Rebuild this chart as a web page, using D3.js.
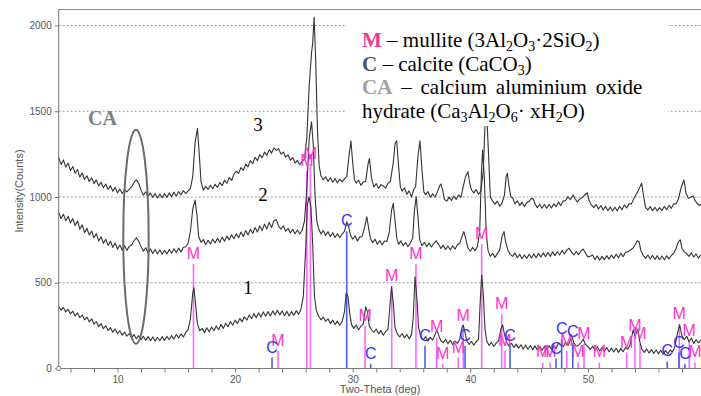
<!DOCTYPE html>
<html>
<head>
<meta charset="utf-8">
<script src="https://d3js.org/d3.v7.min.js"></script>
<style>
  body { margin: 0; background: #fff; }
  svg { display: block; }
  .axis text { font-family: "Liberation Sans", Arial, sans-serif; font-size: 10px; fill: #555; }
  .axis path, .axis line { stroke: #777; }
</style>
</head>
<body>
<div id="chart"></div>
<script>
// diffractograms, [two-theta (deg), intensity (counts)]
const pattern1 = [
  [5.0,362],[5.2,340],[5.4,356],[5.6,330],[5.8,346],[6.0,318],[6.2,334],[6.4,306],[6.6,324],[6.8,296],[7.0,312],[7.2,284],[7.4,300],[7.6,272],[7.8,290],
  [8.0,258],[8.2,274],[8.4,244],[8.6,262],[8.8,232],[9.0,250],[9.2,222],[9.4,238],[9.6,212],[9.8,230],[10.0,204],[10.2,220],[10.4,194],[10.6,212],[10.8,188],
  [11.0,204],[11.2,180],[11.4,198],[11.6,174],[11.8,192],[12.0,168],[12.2,188],[12.4,164],[12.6,186],[12.8,162],[13.0,184],[13.2,160],[13.4,182],[13.6,162],
  [13.8,186],[14.0,164],[14.2,188],[14.4,168],[14.6,192],[14.8,172],[15.0,198],[15.2,178],[15.4,202],[15.6,184],[15.8,210],[16.0,225],[16.2,290],[16.4,440],
  [16.5,470],[16.6,400],[16.8,260],[17.0,220],[17.2,234],[17.4,208],[17.6,238],[17.8,214],[18.0,242],[18.2,220],[18.4,248],[18.6,226],[18.8,256],[19.0,234],
  [19.2,264],[19.4,244],[19.6,274],[19.8,252],[20.0,282],[20.2,262],[20.4,292],[20.6,272],[20.8,302],[21.0,282],[21.2,312],[21.4,290],[21.6,320],[21.8,296],
  [22.0,324],[22.2,300],[22.4,330],[22.6,304],[22.8,332],[23.0,306],[23.2,336],[23.4,312],[23.6,340],[23.8,312],[24.0,336],[24.2,308],[24.4,334],[24.6,306],
  [24.8,332],[25.0,310],[25.2,336],[25.4,316],[25.6,344],[25.8,420],[26.0,700],[26.15,960],[26.3,1000],[26.45,940],[26.6,720],[26.75,420],[26.9,340],
  [27.1,306],[27.3,284],[27.5,300],[27.7,276],[27.9,290],[28.1,262],[28.3,282],[28.5,256],[28.7,276],[28.9,252],[29.1,274],[29.3,330],[29.45,440],[29.6,420],
  [29.75,320],[29.9,256],[30.1,234],[30.3,254],[30.5,226],[30.7,246],[30.9,260],[31.1,360],[31.25,330],[31.4,250],[31.6,226],[31.8,210],[32.0,230],[32.2,202],
  [32.4,222],[32.6,194],[32.8,216],[33.0,230],[33.15,350],[33.3,477],[33.45,380],[33.6,240],[33.8,200],[34.0,184],[34.2,204],[34.4,178],[34.6,198],[34.8,174],
  [35.0,196],[35.15,300],[35.3,535],[35.45,420],[35.6,240],[35.8,182],[36.0,166],[36.2,186],[36.4,160],[36.6,182],[36.8,166],[37.0,196],[37.15,224],[37.3,196],
  [37.5,162],[37.7,150],[37.9,170],[38.1,144],[38.3,164],[38.5,140],[38.7,160],[38.9,146],[39.1,170],[39.3,240],[39.4,254],[39.55,210],[39.7,160],[39.9,140],
  [40.1,158],[40.3,136],[40.5,156],[40.7,170],[40.85,400],[40.97,545],[41.1,440],[41.25,230],[41.4,160],[41.6,134],[41.8,152],[42.0,128],[42.2,148],[42.4,160],
  [42.6,230],[42.75,254],[42.9,200],[43.1,150],[43.3,130],[43.5,148],[43.7,122],[43.9,142],[44.1,118],[44.3,138],[44.5,114],[44.7,136],[44.9,112],[45.1,134],
  [45.3,110],[45.5,132],[45.7,108],[45.9,130],[46.1,106],[46.3,128],[46.5,110],[46.7,132],[46.9,112],[47.1,136],[47.3,116],[47.5,150],[47.7,136],[47.9,128],
  [48.1,152],[48.3,134],[48.5,165],[48.65,185],[48.8,150],[49.0,130],[49.2,136],[49.4,150],[49.6,170],[49.8,140],[50.0,128],[50.2,110],[50.4,130],[50.6,106],
  [50.8,126],[51.0,102],[51.2,124],[51.4,100],[51.6,122],[51.8,98],[52.0,120],[52.2,96],[52.4,118],[52.6,94],[52.8,116],[53.0,98],[53.2,124],[53.4,112],
  [53.6,140],[53.85,225],[54.0,190],[54.25,230],[54.4,160],[54.6,112],[54.8,94],[55.0,114],[55.2,90],[55.4,110],[55.6,88],[55.8,108],[56.0,86],[56.2,106],
  [56.4,84],[56.6,104],[56.8,86],[57.0,108],[57.2,96],[57.4,130],[57.6,200],[57.8,254],[58.0,190],[58.2,168],[58.4,188],[58.6,156],[58.8,178],[59.0,146],
  [59.2,168],[59.4,150],[59.6,164],[60.0,152]
];

const pattern2 = [
  [5.0,910],[5.2,874],[5.4,900],[5.6,862],[5.8,888],[6.0,850],[6.2,874],[6.4,834],[6.6,860],[6.8,812],[7.0,838],[7.2,792],[7.4,818],[7.6,778],[7.8,802],
  [8.0,762],[8.2,786],[8.4,744],[8.6,768],[8.8,730],[9.0,754],[9.2,718],[9.4,742],[9.6,706],[9.8,732],[10.0,696],[10.2,720],[10.4,690],[10.6,716],[10.8,690],
  [11.0,712],[11.2,720],[11.4,745],[11.6,762],[11.8,742],[12.0,712],[12.2,684],[12.4,704],[12.6,674],[12.8,698],[13.0,670],[13.2,694],[13.4,668],[13.6,692],
  [13.8,666],[14.0,690],[14.2,668],[14.4,694],[14.6,672],[14.8,698],[15.0,676],[15.2,702],[15.4,680],[15.6,706],[15.8,710],[16.0,730],[16.2,800],[16.4,930],
  [16.6,982],[16.75,900],[16.9,770],[17.1,736],[17.3,752],[17.5,722],[17.7,748],[17.9,726],[18.1,754],[18.3,732],[18.5,760],[18.7,736],[18.9,766],[19.1,742],
  [19.3,772],[19.5,750],[19.7,780],[19.9,756],[20.1,786],[20.3,762],[20.5,796],[20.7,770],[20.9,804],[21.1,778],[21.3,812],[21.5,788],[21.7,822],[21.9,796],
  [22.1,832],[22.3,804],[22.5,842],[22.7,814],[22.9,852],[23.1,822],[23.3,862],[23.5,868],[23.7,830],[23.9,812],[24.1,832],[24.3,800],[24.5,818],[24.7,790],
  [24.9,812],[25.1,786],[25.3,808],[25.5,784],[25.7,806],[25.9,860],[26.1,1050],[26.3,1340],[26.5,1439],[26.65,1300],[26.8,1000],[26.95,860],[27.1,816],
  [27.3,784],[27.5,804],[27.7,776],[27.9,798],[28.1,770],[28.3,792],[28.5,764],[28.7,786],[28.9,762],[29.1,784],[29.3,800],[29.5,856],[29.65,830],[29.8,780],
  [30.0,754],[30.2,774],[30.4,744],[30.6,766],[30.8,770],[31.0,820],[31.2,885],[31.35,820],[31.5,760],[31.7,734],[31.9,754],[32.1,724],[32.3,746],[32.5,720],
  [32.7,744],[32.9,740],[33.1,790],[33.3,920],[33.45,963],[33.6,860],[33.75,760],[33.9,724],[34.1,744],[34.3,716],[34.5,736],[34.7,710],[34.9,732],[35.1,760],
  [35.25,920],[35.4,1002],[35.55,880],[35.7,750],[35.9,716],[36.1,736],[36.3,710],[36.5,732],[36.7,708],[36.9,730],[37.1,745],[37.3,724],[37.5,700],[37.7,718],
  [37.9,694],[38.1,714],[38.3,692],[38.5,716],[38.7,696],[38.9,722],[39.1,730],[39.3,770],[39.45,798],[39.6,760],[39.8,704],[40.0,684],[40.2,706],[40.4,686],
  [40.6,712],[40.8,800],[40.95,1150],[41.05,1274],[41.2,1100],[41.35,800],[41.5,690],[41.7,654],[41.9,672],[42.1,648],[42.3,670],[42.5,690],[42.7,770],
  [42.87,798],[43.0,740],[43.2,690],[43.4,664],[43.6,654],[43.8,674],[44.0,646],[44.2,666],[44.4,640],[44.6,662],[44.8,642],[45.0,666],[45.2,644],[45.4,668],
  [45.6,646],[45.8,672],[46.0,650],[46.2,674],[46.4,652],[46.6,676],[46.8,654],[47.0,680],[47.2,658],[47.4,682],[47.6,662],[47.8,688],[48.0,668],[48.2,690],
  [48.4,701],[48.6,680],[48.8,662],[49.0,682],[49.2,664],[49.4,684],[49.6,696],[49.8,672],[50.0,650],[50.2,654],[50.4,662],[50.6,636],[50.8,656],[51.0,632],
  [51.2,654],[51.4,634],[51.6,658],[51.8,638],[52.0,662],[52.2,642],[52.4,666],[52.6,646],[52.8,672],[53.0,652],[53.2,678],[53.4,680],[53.6,690],[53.8,700],
  [54.0,720],[54.2,745],[54.35,740],[54.5,690],[54.7,660],[54.9,642],[55.1,662],[55.3,638],[55.5,660],[55.7,636],[55.9,658],[56.1,634],[56.3,656],[56.5,634],
  [56.7,658],[56.9,638],[57.1,660],[57.3,672],[57.5,700],[57.7,740],[57.85,750],[58.0,700],[58.2,680],[58.4,670],[58.6,654],[58.8,674],[59.0,650],[59.2,668],
  [59.4,644],[59.6,662],[60.0,652]
];

const pattern3 = [
  [5.0,1230],[5.2,1190],[5.4,1216],[5.6,1174],[5.8,1198],[6.0,1154],[6.2,1178],[6.4,1138],[6.6,1160],[6.8,1116],[7.0,1140],[7.2,1102],[7.4,1124],[7.6,1090],
  [7.8,1112],[8.0,1078],[8.2,1100],[8.4,1064],[8.6,1086],[8.8,1054],[9.0,1076],[9.2,1044],[9.4,1066],[9.6,1034],[9.8,1056],[10.0,1024],[10.2,1046],[10.4,1020],
  [10.6,1042],[10.8,1030],[11.0,1044],[11.2,1060],[11.4,1085],[11.6,1100],[11.8,1080],[12.0,1040],[12.2,1010],[12.4,1030],[12.6,1002],[12.8,1024],[13.0,998],
  [13.2,1020],[13.4,994],[13.6,1018],[13.8,996],[14.0,1020],[14.2,998],[14.4,1024],[14.6,1002],[14.8,1028],[15.0,1006],[15.2,1032],[15.4,1012],[15.6,1038],
  [15.8,1020],[16.0,1036],[16.2,1050],[16.4,1120],[16.6,1320],[16.8,1400],[16.95,1250],[17.1,1090],[17.3,1040],[17.5,1062],[17.7,1044],[17.9,1068],[18.1,1048],
  [18.3,1074],[18.5,1056],[18.7,1084],[18.9,1066],[19.1,1098],[19.3,1080],[19.5,1114],[19.7,1096],[19.9,1132],[20.1,1150],[20.3,1138],[20.5,1172],[20.7,1156],
  [20.9,1192],[21.1,1176],[21.3,1212],[21.5,1194],[21.7,1232],[21.9,1212],[22.1,1248],[22.3,1228],[22.5,1262],[22.7,1242],[22.9,1276],[23.1,1256],[23.3,1286],
  [23.5,1272],[23.7,1282],[23.9,1250],[24.1,1262],[24.3,1232],[24.5,1246],[24.7,1214],[24.9,1230],[25.1,1198],[25.3,1214],[25.5,1188],[25.7,1206],[25.9,1222],
  [26.1,1350],[26.3,1650],[26.5,1839],[26.6,1900],[26.72,2049],[26.85,1800],[27.0,1400],[27.15,1180],[27.3,1124],[27.5,1100],[27.7,1118],[27.9,1090],[28.1,1112],
  [28.3,1086],[28.5,1108],[28.7,1082],[28.9,1104],[29.1,1088],[29.3,1106],[29.5,1120],[29.65,1220],[29.85,1328],[30.0,1200],[30.15,1100],[30.3,1080],[30.5,1098],
  [30.7,1068],[30.9,1088],[31.1,1090],[31.3,1190],[31.42,1225],[31.6,1110],[31.8,1058],[32.0,1078],[32.2,1050],[32.4,1072],[32.6,1064],[32.8,1052],[33.0,1080],
  [33.2,1090],[33.45,1200],[33.6,1310],[33.74,1328],[33.9,1180],[34.05,1060],[34.2,1034],[34.4,1054],[34.6,1016],[34.8,1036],[35.0,1000],[35.2,1046],[35.35,1060],
  [35.55,1240],[35.72,1328],[35.9,1150],[36.05,1030],[36.2,1014],[36.4,1032],[36.6,998],[36.8,1018],[37.0,1000],[37.2,1030],[37.4,1066],[37.5,1076],[37.65,1040],
  [37.8,986],[38.0,976],[38.2,1000],[38.4,980],[38.6,1004],[38.8,986],[39.0,1012],[39.2,998],[39.4,1060],[39.6,1120],[39.8,1147],[39.95,1080],[40.1,1041],
  [40.3,1024],[40.5,1044],[40.7,1016],[40.9,1034],[41.1,1150],[41.25,1420],[41.39,1495],[41.55,1250],[41.7,1000],[41.9,976],[42.1,958],[42.3,976],[42.5,946],
  [42.7,966],[42.9,1010],[43.05,1120],[43.15,1138],[43.3,1060],[43.45,1000],[43.6,996],[43.8,960],[44.0,978],[44.2,950],[44.4,970],[44.6,944],[44.8,966],
  [45.0,975],[45.2,992],[45.35,990],[45.5,960],[45.7,938],[45.9,958],[46.1,934],[46.3,956],[46.5,934],[46.7,956],[46.9,936],[47.1,960],[47.3,944],[47.5,970],
  [47.7,950],[47.9,976],[48.1,980],[48.3,1002],[48.5,984],[48.75,1012],[48.9,990],[49.1,972],[49.3,988],[49.5,996],[49.7,1010],[49.95,1025],[50.1,980],
  [50.3,954],[50.5,938],[50.7,956],[50.9,930],[51.1,950],[51.3,924],[51.5,946],[51.7,920],[51.9,942],[52.1,918],[52.3,940],[52.5,920],[52.7,946],[52.9,926],
  [53.1,954],[53.3,936],[53.5,960],[53.7,960],[53.9,990],[54.15,1021],[54.3,1040],[54.57,1080],[54.75,1000],[54.9,940],[55.1,924],[55.3,944],[55.5,920],
  [55.7,940],[55.9,918],[56.1,938],[56.3,920],[56.5,946],[56.7,926],[56.9,952],[57.1,934],[57.3,960],[57.5,960],[57.7,990],[57.95,1060],[58.17,1099],
  [58.35,1020],[58.55,992],[58.75,1000],[58.96,1006],[59.1,980],[59.3,962],[59.5,950],[59.6,958],[60.0,948]
];

// reference stick patterns, [two-theta (deg), height (counts)]
const mulliteSticks = [
  [16.46,610],[23.65,103],[26.1,1153],[26.4,1192],[31.05,249],[33.32,482],[35.38,609],[37.14,181],[37.65,29],
  [38.98,64],[39.4,249],[40.97,725],[42.67,317],[42.95,103],[46.16,35],[46.78,35],[48.2,103],[49.16,35],
  [49.67,144],[50.97,35],[53.3,93],[54.0,191],[54.43,144],[57.77,259],[58.62,161],[59.1,35]
];
const calciteSticks = [
  [23.14,64],[29.49,800],[31.53,27],[36.15,132],[39.55,132],[43.38,132],[47.29,57],[47.77,172],
  [48.71,152],[56.75,41],[57.74,93],[58.25,26]
];

const yTicks = [0, 500, 1000, 1500, 2000];
const yGrid = [500, 1000, 1500, 2000];
const xTicks = [6,8,10,12,14,16,18,20,22,24,26,28,30,32,34,36,38,40,42,44,46,48,50,52,54,56,58,60];
const xTickLabels = [10, 20, 30, 40, 50];

const config = {
  width: 701,
  height: 396,
  left: 58.7,
  right: 705.5,
  top: 25.5,
  bottom: 368.5,
  frameTop: 9.5,
  curveColor: '#333',
  mColor: '#ff33cc',
  mLine: '#ff66ff',
  cColor: '#3333ff',
  cLine: '#4a5ff0'
};

const svg = d3.select('#chart')
  .append('svg')
  .attr('width', config.width)
  .attr('height', config.height);

const x = d3.scaleLinear().domain([5, 60]).range([config.left, config.right]);
const y = d3.scaleLinear().domain([0, 2000]).range([config.bottom, config.top]);

// dashed grid
svg.append('g')
  .selectAll('line')
  .data(yGrid)
  .join('line')
  .attr('x1', x(5))
  .attr('x2', config.width)
  .attr('y1', d => y(d))
  .attr('y2', d => y(d))
  .attr('stroke', '#9a9a9a')
  .attr('stroke-width', 1)
  .attr('stroke-dasharray', '2,2');

// frame top
svg.append('line')
  .attr('x1', x(5)).attr('x2', config.width)
  .attr('y1', config.frameTop).attr('y2', config.frameTop)
  .attr('stroke', '#888').attr('stroke-width', 1.2);

// stick patterns
const sticks = svg.append('g');
sticks.selectAll('.m-stick')
  .data(mulliteSticks)
  .join('line')
  .attr('class', 'm-stick')
  .attr('x1', d => x(d[0])).attr('x2', d => x(d[0]))
  .attr('y1', y(0)).attr('y2', d => y(d[1]))
  .attr('stroke', config.mLine)
  .attr('stroke-width', 1.6);

sticks.selectAll('.c-stick')
  .data(calciteSticks)
  .join('line')
  .attr('class', 'c-stick')
  .attr('x1', d => x(d[0])).attr('x2', d => x(d[0]))
  .attr('y1', y(0)).attr('y2', d => y(d[1]))
  .attr('stroke', config.cLine)
  .attr('stroke-width', 1.6);

// patterns
const line = d3.line()
  .x(d => x(d[0]))
  .y(d => y(d[1]));

svg.append('g')
  .selectAll('path')
  .data([pattern1, pattern2, pattern3])
  .join('path')
  .attr('d', d => line(d))
  .attr('fill', 'none')
  .attr('stroke', config.curveColor)
  .attr('stroke-width', 1.1)
  .attr('stroke-linejoin', 'round');

// stick labels
const labels = svg.append('g')
  .style('font-family', '"Liberation Sans", Arial, sans-serif')
  .style('font-size', '16px')
  .attr('text-anchor', 'middle');

labels.selectAll('.m-label')
  .data(mulliteSticks)
  .join('text')
  .attr('class', 'm-label')
  .attr('x', d => x(d[0]))
  .attr('y', d => y(d[1]) - 5)
  .attr('fill', config.mColor)
  .text('M');

labels.selectAll('.c-label')
  .data(calciteSticks)
  .join('text')
  .attr('class', 'c-label')
  .attr('x', d => x(d[0]))
  .attr('y', d => y(d[1]) - 5)
  .attr('fill', config.cColor)
  .text('C');

// axes
const axisY = d3.axisLeft(y)
  .tickValues(yTicks)
  .tickFormat(d3.format('d'))
  .tickSize(4)
  .tickPadding(3);
svg.append('g')
  .attr('class', 'axis')
  .attr('transform', `translate(${x(5)},0)`)
  .call(axisY)
  .call(g => g.select('.domain').attr('d', `M0,${config.frameTop}V${config.bottom}`));

const axisX = d3.axisBottom(x)
  .tickValues(xTicks)
  .tickSize(4)
  .tickPadding(3)
  .tickFormat(d => xTickLabels.includes(d) ? d : '');
svg.append('g')
  .attr('class', 'axis')
  .attr('transform', `translate(0,${config.bottom})`)
  .call(axisX)
  .call(g => g.select('.domain').attr('d', `M${x(5)},0H${config.width}`));

// origin marker
svg.append('circle')
  .attr('cx', x(5)).attr('cy', y(0)).attr('r', 2.2)
  .attr('fill', '#fff').attr('stroke', '#777');

svg.append('text')
  .attr('x', 380).attr('y', 393)
  .attr('text-anchor', 'middle')
  .style('font-family', '"Liberation Sans", Arial, sans-serif')
  .style('font-size', '11px')
  .attr('fill', '#555')
  .text('Two-Theta (deg)');

svg.append('text')
  .attr('transform', 'translate(23,191) rotate(-90)')
  .attr('text-anchor', 'middle')
  .style('font-family', '"Liberation Sans", Arial, sans-serif')
  .style('font-size', '11px')
  .attr('fill', '#555')
  .text('Intensity(Counts)');

// curve numbers
const serif = '"Liberation Serif", "Times New Roman", serif';
const curveNumbers = [['1', 21.1, 437], ['2', 22.37, 974], ['3', 21.95, 1382]];
svg.append('g')
  .selectAll('text')
  .data(curveNumbers)
  .join('text')
  .attr('x', d => x(d[1]))
  .attr('y', d => y(d[2]))
  .attr('text-anchor', 'middle')
  .style('font-family', serif)
  .style('font-size', '19px')
  .attr('fill', '#000')
  .text(d => d[0]);

// CA region
svg.append('ellipse')
  .attr('cx', x(11.57))
  .attr('cy', y(768))
  .attr('rx', x(12.65) - x(11.57))
  .attr('ry', y(0) - y(624))
  .attr('fill', 'none')
  .attr('stroke', '#6b6b6b')
  .attr('stroke-width', 2);

svg.append('text')
  .attr('x', x(7.49))
  .attr('y', y(1419))
  .style('font-family', serif)
  .style('font-size', '20px')
  .style('font-weight', 'bold')
  .attr('fill', '#808080')
  .text('CA');

// legend box
const legend = svg.append('g').attr('transform', 'translate(345,20)');
legend.append('rect')
  .attr('width', 323).attr('height', 106)
  .attr('fill', '#fff');

const legendLines = [
  [['M', 'm'], [' – mullite (3Al'], ['2', 's'], ['O'], ['3', 's'], ['·2SiO'], ['2', 's'], [')']],
  [['C', 'c'], [' – calcite (CaCO'], ['3', 's'], [')']],
  [['CA', 'ca'], [' – calcium aluminium oxide']],
  [['hydrate (Ca'], ['3', 's'], ['Al'], ['2', 's'], ['O'], ['6', 's'], ['· xH'], ['2', 's'], ['O)']]
];
const keyColors = { m: '#f2388f', c: '#44546a', ca: '#a0a0a0' };

legendLines.forEach((segs, i) => {
  const t = legend.append('text')
    .attr('x', 17)
    .attr('y', 26.7 + i * 23.8)
    .style('font-family', serif)
    .style('font-size', '21px')
    .attr('fill', '#000')
    .style('word-spacing', i === 2 ? '3.6px' : null);
  let shifted = false;
  segs.forEach(([txt, kind]) => {
    const ts = t.append('tspan').text(txt);
    if (kind === 's') {
      ts.attr('dy', shifted ? 0 : 4).style('font-size', '14px');
      shifted = true;
    } else {
      if (shifted) ts.attr('dy', -4);
      shifted = false;
      if (kind) ts.style('font-weight', 'bold').attr('fill', keyColors[kind]);
    }
  });
});
</script>
</body>
</html>
